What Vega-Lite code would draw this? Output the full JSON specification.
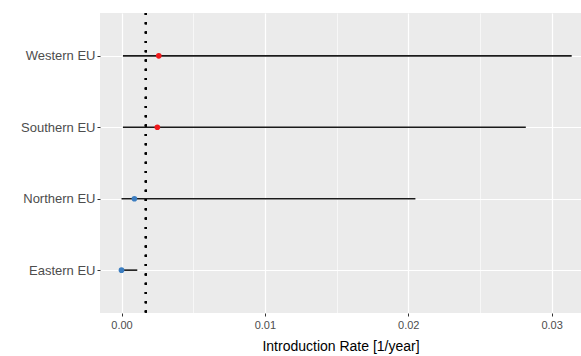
{
  "$schema": "https://vega.github.io/schema/vega-lite/v6.json",
  "width": 481,
  "height": 300,
  "autosize": {"type": "none"},
  "padding": {"left": 100, "top": 13, "right": 0, "bottom": 43},
  "background": "white",
  "config": {
    "font": "Liberation Sans",
    "view": {"fill": "#EBEBEB", "stroke": null}
  },
  "data": {
    "values": [
      {"region": "Western EU", "est": 0.0026, "lo": 0.0001, "hi": 0.0314, "group": "high"},
      {"region": "Southern EU", "est": 0.0025, "lo": 0.0001, "hi": 0.0282, "group": "high"},
      {"region": "Northern EU", "est": 0.0009, "lo": 0.0, "hi": 0.0205, "group": "low"},
      {"region": "Eastern EU", "est": 0.0, "lo": 0.0, "hi": 0.0011, "group": "low"}
    ]
  },
  "encoding": {
    "y": {
      "field": "region",
      "type": "nominal",
      "sort": ["Western EU", "Southern EU", "Northern EU", "Eastern EU"],
      "scale": {"type": "point", "padding": 0.6},
      "axis": {
        "title": null,
        "domain": false,
        "grid": true,
        "gridColor": "white",
        "gridWidth": 1.2,
        "tickSize": 3,
        "tickColor": "#333333",
        "labelColor": "#4D4D4D",
        "labelFontSize": 13,
        "labelPadding": 2
      }
    }
  },
  "layer": [
    {
      "mark": {"type": "rule", "color": "#1a1a1a", "strokeWidth": 1.6},
      "encoding": {
        "x": {
          "field": "lo",
          "type": "quantitative",
          "scale": {"domain": [-0.0015, 0.03205], "nice": false, "zero": false},
          "axis": {
            "title": "Introduction Rate [1/year]",
            "titleFontSize": 14,
            "titleFontWeight": "normal",
            "titleColor": "black",
            "titlePadding": 9,
            "domain": false,
            "values": [0, 0.005, 0.01, 0.015, 0.02, 0.025, 0.03],
            "labelExpr": "round(datum.value*1000)%10==0 ? format(datum.value,'.2f') : ''",
            "grid": true,
            "gridColor": "white",
            "gridWidth": {"condition": {"test": "round(datum.value*1000)%10!=0", "value": 0.6}, "value": 1.2},
            "tickColor": {"condition": {"test": "round(datum.value*1000)%10!=0", "value": "transparent"}, "value": "#333333"},
            "tickSize": 3,
            "labelColor": "#4D4D4D",
            "labelFontSize": 11,
            "labelPadding": 3
          }
        },
        "x2": {"field": "hi"}
      }
    },
    {
      "mark": {"type": "rule", "color": "black", "strokeWidth": 2.2, "strokeDash": [2, 7.3]},
      "encoding": {"x": {"datum": 0.0017, "type": "quantitative"}, "y": null}
    },
    {
      "mark": {"type": "point", "filled": true, "shape": "circle", "size": 32, "opacity": 1},
      "encoding": {
        "x": {"field": "est", "type": "quantitative"},
        "color": {
          "field": "group",
          "type": "nominal",
          "scale": {"domain": ["high", "low"], "range": ["#F0191B", "#3B7DC0"]},
          "legend": null
        }
      }
    }
  ]
}
